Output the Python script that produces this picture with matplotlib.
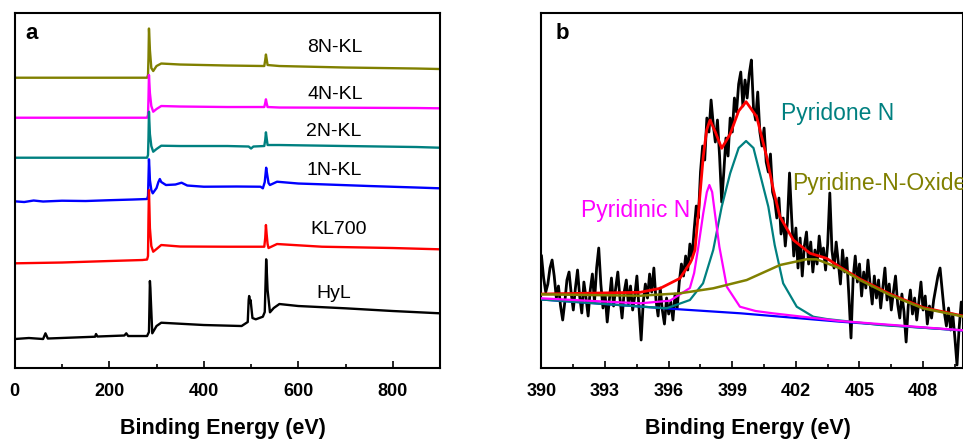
import matplotlib
matplotlib.use("Agg")
import matplotlib.pyplot as plt
import numpy as np
from matplotlib.ticker import MultipleLocator

plt.rcParams['font.family'] = ['Liberation Sans', 'DejaVu Sans']

# ---- survey spectra (panel a), intensity in arbitrary units ----
e_8n = [0, 280, 282, 283, 284, 285, 286, 289, 293, 300, 310, 350, 450, 528, 530, 531.5, 533, 535, 560, 700, 850, 900]
i_8n = [290.3, 290.3, 293, 310, 339.5, 330, 318, 300, 297, 302, 304.5, 303.5, 302.5, 302, 308, 313.5, 309, 303, 302, 300.5, 299.5, 299]

e_4n = [0, 280, 282, 283, 284, 285, 286, 289, 293, 300, 310, 350, 450, 528, 530, 531.5, 533, 535, 560, 700, 850, 900]
i_4n = [250.3, 250.3, 253, 270, 293, 284, 275, 262, 256.3, 259, 262, 261.5, 261, 261, 265, 268.7, 265, 261, 260.5, 260.3, 260, 259.7]

e_2n = [0, 280, 282, 283, 284, 285, 286, 289, 293, 300, 310, 350, 450, 495, 500, 505, 528, 530, 531.5, 533, 535, 560, 700, 850, 900]
i_2n = [210.3, 210.3, 213, 230, 256.3, 245, 234, 222, 216.3, 219, 222.3, 222, 222, 221.5, 219.5, 221.5, 222, 228, 235.7, 230, 223, 223, 222, 221, 220.3]

e_1n = [0, 20, 40, 60, 100, 150, 200, 250, 280, 282, 283, 284, 285, 286, 289, 292, 300, 304, 307, 310, 320,
        340, 353, 365, 400, 470, 520, 525, 529, 532, 534, 537, 540, 555, 600, 650, 750, 850, 900]
i_1n = [166.7, 166, 167.5, 166.5, 167.3, 167, 167.8, 168.5, 169, 172, 190, 208.7, 200, 188, 178, 174.7, 180, 186, 189, 186, 183,
        183.5, 185.3, 182.5, 181.3, 181.5, 181.3, 179.7, 186, 200.3, 194, 185, 183, 186.3, 184.5, 183.7, 182, 180.5, 179.7]

e_kl = [0, 100, 200, 270, 280, 282, 283, 284, 285, 286, 289, 293, 300, 310, 350, 450, 528, 530, 531.5, 533, 535, 537, 555, 650, 800, 900]
i_kl = [104.7, 105.5, 107, 108, 108.5, 112, 150, 178, 160, 140, 122, 116.3, 119, 123, 121.5, 121.3, 121.3, 130, 143, 134, 124, 120, 124, 121.3, 120, 118.7]

e_hyl = [0, 30, 60, 65, 70, 170, 172, 175, 232, 236, 240, 280, 284, 285, 286, 287, 288, 291, 300, 310, 400, 480, 493,
         495, 496, 498, 499, 503, 510, 525, 529, 531, 532, 533, 535, 540, 548, 560, 600, 700, 800, 900]
i_hyl = [29, 30, 29, 34.7, 29.5, 31.3, 34, 31.5, 32.5, 34.7, 32, 32, 36, 60, 87, 80, 68, 34.7, 42, 45.3, 43, 42, 46,
         68, 72, 66, 68, 50, 48.7, 51.3, 56, 90, 108.7, 100, 78, 55.7, 60, 64, 62, 59.7, 57, 54.7]

survey_names = ["8N-KL", "4N-KL", "2N-KL", "1N-KL", "KL700", "HyL"]
survey_colors = ["#808000", "#ff00ff", "#008080", "#0000ff", "#ff0000", "#000000"]
label_x = [678, 678, 674, 676, 686, 674]
label_y = [321, 274, 237, 198, 139, 75]

# ---- N 1s high resolution (panel b) ----
be_raw = np.round(np.arange(390.0, 410.05, 0.1), 1)
n1s_raw = [112, 90, 76, 84, 100, 108, 92, 70, 82, 62,
           48, 66, 88, 96, 75, 58, 80, 98, 72, 55,
           86, 70, 52, 78, 94, 66, 100, 120, 84, 60,
           74, 46, 68, 90, 62, 80, 96, 70, 50, 76,
           88, 64, 82, 58, 72, 92, 60, 28, 66, 84,
           70, 94, 76, 100, 68, 52, 80, 58, 44, 70,
           54, 66, 48, 74, 60, 86, 104, 92, 112, 98,
           124, 110, 138, 162, 150, 196, 222, 208, 250, 236,
           268, 244, 226, 248, 212, 166, 196, 230, 212, 250,
           236, 270, 256, 284, 296, 262, 288, 270, 294, 308,
           260, 248, 276, 236, 222, 240, 206, 196, 214, 176,
           168, 150, 170, 134, 150, 122, 146, 195, 150, 112,
           140, 100, 130, 92, 122, 136, 104, 126, 96, 118,
           104, 132, 112, 120, 98, 124, 175, 118, 100, 126,
           106, 84, 118, 96, 110, 72, 30, 90, 112, 86,
           104, 72, 96, 80, 108, 84, 64, 92, 70, 88,
           60, 80, 100, 68, 84, 58, 76, 92, 64, 50,
           74, 56, 26, 62, 78, 54, 70, 48, 66, 86,
           58, 72, 44, 62, 50, 68, 80, 92, 100, 78,
           56, 42, 60, 38, 54, 30, 3, 40, 66, 50,
           60]

be_bg = [390, 396.5, 399.4, 404.1, 410]
bg = [68.5, 58.7, 54.7, 46.3, 37.3]

be_pyn = [390, 392, 394.65, 396.06, 397.0, 397.2, 397.4, 397.63, 397.8, 397.92, 398.05, 398.18, 398.39,
          398.74, 399.36, 400.1, 400.92, 404.08, 410]
pyn = [69.7, 67.5, 64.7, 67.3, 80, 95, 121.3, 154.7, 176, 183, 176, 154.7, 121.3,
       81.3, 61.3, 57, 54.7, 47, 37.5]

be_pdo = [390, 394, 395.9, 397.0, 397.62, 398.1, 398.5, 398.9, 399.3, 399.65, 400.0, 400.3, 400.7, 401.0,
          401.4, 402.04, 402.82, 403.45, 406, 410]
pdo = [68.5, 62.5, 59.7, 68, 84.7, 118, 161.3, 194.7, 220, 227, 220, 194.7, 161.3, 123,
       84.7, 61.3, 51.3, 49, 43, 37.5]

be_pno = [390, 394.65, 396.53, 398.1, 399.68, 401.25, 402.5, 402.98, 404.08, 405.02, 406.44, 408.0, 410]
pno = [73.7, 72.3, 74.7, 79.7, 88, 103, 108.7, 108.7, 99.7, 88, 73, 59.7, 51]

be_fit = [390, 394.65, 395.6, 396.53, 397.0, 397.08, 397.24, 397.4, 397.63, 397.79, 397.95, 398.2, 398.5,
          398.9, 399.3, 399.65, 400.15, 400.62, 400.94, 401.25, 401.88, 402.67, 403.45, 404.08, 405.02,
          406.44, 408.0, 410]
fit = [74, 75.7, 79.7, 89.7, 104.7, 108, 118, 154.7, 211.3, 238, 248, 236, 219.7,
       234, 257, 266.3, 251.3, 211.3, 178, 151.3, 128, 114.7, 109.7, 101, 89,
       74, 60.5, 51.5]

fig = plt.figure(figsize=(9.63, 4.4), dpi=100)
ax1 = fig.add_axes([0.0153, 0.1636, 0.4417, 0.8068])
ax2 = fig.add_axes([0.5623, 0.1636, 0.4372, 0.8068])

curves = [(e_8n, i_8n), (e_4n, i_4n), (e_2n, i_2n), (e_1n, i_1n), (e_kl, i_kl), (e_hyl, i_hyl)]
for (e, i), name, c, lx, ly in zip(curves, survey_names, survey_colors, label_x, label_y):
    ax1.plot(e, i, color=c, lw=1.7)
    ax1.text(lx, ly, name, color="black", fontsize=14, ha="center", va="center")
ax1.text(36, 335, "a", fontsize=16, fontweight="bold", ha="center", va="center")
ax1.set_xlim(0, 900)
ax1.set_ylim(0, 355)
ax1.xaxis.set_major_locator(MultipleLocator(200))
ax1.xaxis.set_minor_locator(MultipleLocator(100))

ax2.plot(be_raw, n1s_raw, color="black", lw=2.0, zorder=1)
ax2.plot(be_bg, bg, color="#0000ff", lw=1.6, zorder=2)
ax2.plot(be_pdo, pdo, color="#008080", lw=1.6, zorder=3)
ax2.plot(be_pyn, pyn, color="#ff00ff", lw=1.6, zorder=4)
ax2.plot(be_fit, fit, color="#ff0000", lw=2.0, zorder=5)
ax2.plot(be_pno, pno, color="#808000", lw=1.8, zorder=6)
ax2.text(403.99, 255, "Pyridone N", color="#008080", fontsize=16.5, ha="center", va="center")
ax2.text(394.43, 158, "Pyridinic N", color="#ff00ff", fontsize=16.5, ha="center", va="center")
ax2.text(401.82, 185, "Pyridine-N-Oxide", color="#808000", fontsize=16.5, ha="left", va="center", clip_on=False)
ax2.text(390.97, 335, "b", fontsize=16, fontweight="bold", ha="center", va="center")
ax2.set_xlim(390, 409.86)
ax2.set_ylim(0, 355)
ax2.xaxis.set_major_locator(MultipleLocator(3))
ax2.xaxis.set_minor_locator(MultipleLocator(1.5))

for ax in (ax1, ax2):
    ax.set_yticks([])
    for s in ax.spines.values():
        s.set_linewidth(1.5)
    ax.tick_params(axis="x", which="major", direction="in", length=5, width=1.2, pad=10.5,
                   labelsize=13)
    ax.tick_params(axis="x", which="minor", direction="in", length=3, width=1.2)
    for lbl in ax.get_xticklabels():
        lbl.set_fontweight("bold")
    ax.set_xlabel("Binding Energy (eV)", fontsize=15.5, fontweight="bold")
ax1.xaxis.set_label_coords(0.49, -0.14)
ax2.xaxis.set_label_coords(0.49, -0.142)

fig.savefig("out.png", dpi=100)
